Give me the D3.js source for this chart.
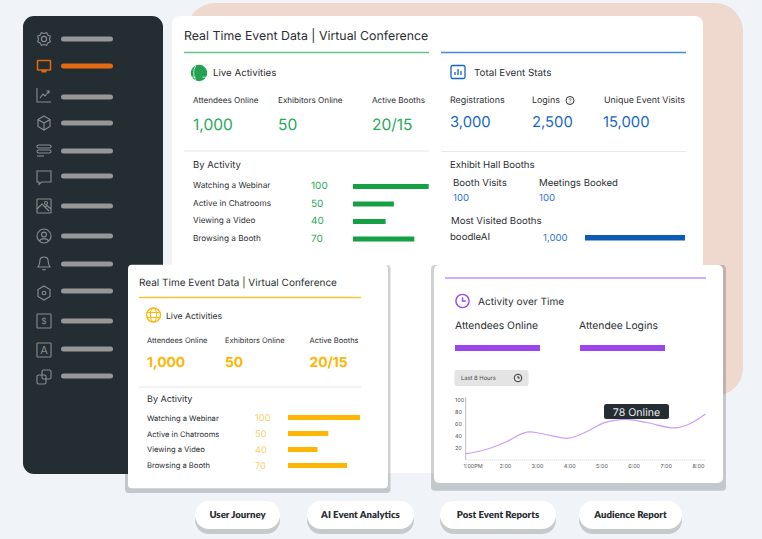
<!DOCTYPE html>
<html><head><meta charset="utf-8">
<script src="https://cdn.jsdelivr.net/npm/d3@7"></script>
<style>
html,body{margin:0;padding:0;background:#f0f4f8;overflow:hidden}
svg{display:block}
text{font-family:Inter,"Noto Sans",sans-serif;fill:#2b2f33;text-rendering:geometricPrecision}
</style></head><body><svg id="c" width="762" height="539"></svg>
<script>
const title="Real Time Event Data | Virtual Conference";
const liveLabels=["Attendees Online","Exhibitors Online","Active Booths"];
const liveValues=["1,000","50","20/15"];
const activityNames=["Watching a Webinar","Active in Chatrooms","Viewing a Video","Browsing a Booth"];
const activityValues=[100,50,40,70];
const greenBarValues=[100,54,43,81];
const yellowBarValues=[100,56,41,82];
const totalLabels=["Registrations","Logins","Unique Event Visits"];
const totalValues=["3,000","2,500","15,000"];
const boothLabels=["Booth Visits","Meetings Booked"];
const boothValues=["100","100"];
const topBoothNames=["boodleAI"];
const topBoothValues=[1000];
const lineHours=[0.78,1.38,2.0,2.68,3.2,3.97,4.55,5.06,5.78,6.4,7.29,7.75,8.23];
const lineOnline=[10,17,29,46,43,36,47,61,67,62,53,60,76];
const yTicks=[20,40,60,80,100];
const xTickHours=[1,2,3,4,5,6,7,8];
const xTickLabels=["1:00PM","2:00","3:00","4:00","5:00","6:00","7:00","8:00"];
const buttons=["User Journey","AI Event Analytics","Post Event Reports","Audience Report"];
const navIcons=["gear","screen","trend","cube","rows","chat","image","user","bell","hex","dollar","letter","copy"];

const svg=d3.select("#c");
const rect=(g,x,y,w,h,fill,r=0)=>g.append("rect").attr("x",x).attr("y",y).attr("width",w).attr("height",h).attr("rx",r).attr("fill",fill);
const txt=(g,x,y,s,size,fill="#2b2f33",o={})=>{const t=g.append("text").attr("x",x).attr("y",y).attr("font-size",size).style("fill",fill).text(s);
  if(o.weight)t.attr("font-weight",o.weight);if(o.anchor)t.attr("text-anchor",o.anchor);if(o.family)t.style("font-family",o.family);return t;};
const hline=(g,x1,x2,y,c,w=1)=>g.append("line").attr("x1",x1).attr("x2",x2).attr("y1",y).attr("y2",y).attr("stroke",c).attr("stroke-width",w);

// backdrop
rect(svg,187,3,556,393,"#efd8ce",28);
rect(svg,172,16,531,457,"#ffffff",8);

// sidebar
rect(svg,23,16,140,458,"#232d32",11);
const navY=[39,66,97,123,151,176,206,236,264,291,321,349,376];
const iconY=[39,66,95,123,151,177,206,236,263,293,321,350,377];
function navIcon(name,cy,c){
  const g=svg.append("g").attr("transform",`translate(44,${cy})`).attr("fill","none").attr("stroke",c).attr("stroke-width",1.1);
  const p=d=>g.append("path").attr("d",d);
  const box=(x,y,w,h,r=1)=>g.append("rect").attr("x",x).attr("y",y).attr("width",w).attr("height",h).attr("rx",r);
  const circ=(x,y,r)=>g.append("circle").attr("cx",x).attr("cy",y).attr("r",r);
  switch(name){
   case "gear":{circ(0,0,2.6);const a=d3.range(16).map(i=>{const r=i%2?6.9:5.5;const t=i*Math.PI/8;return [r*Math.sin(t),r*Math.cos(t)];});p(d3.line().curve(d3.curveLinearClosed)(a));break;}
   case "screen":g.attr("stroke-width",1.5);box(-6.5,-5.5,13,9.5,.5);g.append("rect").attr("x",-2.5).attr("y",4).attr("width",5).attr("height",2.5).attr("fill",c).attr("stroke","none");break;
   case "trend":p("M-7,-7V7H7M-4,3L-1,-1L1,1L5,-4M2.5,-4H5V-1.5");break;
   case "cube":p("M0,-7L6,-3.5V3.5L0,7L-6,3.5V-3.5ZM-6,-3.5L0,0L6,-3.5M0,0V7");break;
   case "rows":box(-7,-6,14,3,1.5);box(-7,-1,14,3,1.5);p("M-7,5H0");break;
   case "chat":p("M-7,-6H7V5H-2.5L-5,7.5V5H-7Z");break;
   case "image":box(-7,-7,14,14,.5);circ(2,-3,1.5);p("M-7,3L-2,-2L5,5M1,1L3,-.5L7,3");break;
   case "user":circ(0,0,7);circ(0,-1.5,2.4);p("M-4.5,5C-3,1.8 3,1.8 4.5,5");break;
   case "bell":p("M-6,4C-4,2 -4.5,-1 -4,-3C-3.5,-7 3.5,-7 4,-3C4.5,-1 4,2 6,4ZM-1.5,6C-1,7.3 1,7.3 1.5,6");break;
   case "hex":p("M0,-7L6,-3.5V3.5L0,7L-6,3.5V-3.5Z");circ(0,0,1.8);break;
   case "dollar":box(-7,-7,14,14,.5);g.append("text").attr("x",0).attr("y",3).attr("text-anchor","middle").attr("font-size",8.5).attr("stroke","none").style("fill",c).text("$");break;
   case "letter":box(-7,-7,14,14,.5);g.append("text").attr("x",0).attr("y",4).attr("text-anchor","middle").attr("font-size",11).attr("stroke","none").style("fill",c).text("A");break;
   case "copy":box(-2,-7,9,9,1.5);box(-7,-2,9,9,1.5);break;
  }
}
navIcons.forEach((n,i)=>{
  const c=i===1?"#e36a10":"#8b8f90";
  navIcon(n,iconY[i],i===1?c:"#8a8e8f");
  rect(svg,61,navY[i]-2.5,52,5,i===1?c:"#979797",2.5);
});

function globe(g,cx,cy,r,c,filled){
  const k=g.append("g").attr("transform",`translate(${cx},${cy})`);
  k.append("circle").attr("r",r).attr("fill",filled?c:"none").attr("stroke",c).attr("stroke-width",1.3);
  const s=filled?"#fff":c;
  if(filled){
    k.append("path").attr("d",`M${-r*.4},${-r}C${-r*.8},${-r*.3} ${-r*.8},${r*.3} ${-r*.4},${r}`).attr("fill","none").attr("stroke",s).attr("stroke-width",.7);
    k.append("path").attr("d",`M${-r},${r*.55}L${-r*.45},${r*.55}M${r*.45},${r*.55}L${r},${r*.55}`).attr("stroke",s).attr("stroke-width",.7);
  } else {
    k.append("ellipse").attr("rx",r*.45).attr("ry",r).attr("fill","none").attr("stroke",s).attr("stroke-width",1);
    k.append("path").attr("d",`M${-r},${-r*.35}H${r}M${-r},${r*.35}H${r}`).attr("stroke",s).attr("stroke-width",1);
  }
}
function clock(g,cx,cy,r,c,w=1.4){
  const k=g.append("g").attr("transform",`translate(${cx},${cy})`).attr("fill","none").attr("stroke",c).attr("stroke-width",w);
  k.append("circle").attr("r",r);
  k.append("path").attr("d",`M0,${-r*.55}V0H${r*.5}`);
}
function bars(g,vals,x0,x1,ys,h,c){
  const x=d3.scaleLinear().domain([0,100]).range([x0,x1]);
  g.selectAll(null).data(vals).join("rect").attr("x",x(0)).attr("y",(d,i)=>ys[i]-h/2).attr("height",h).attr("width",d=>x(d)-x(0)).attr("fill",c);
}

// main panel: green
txt(svg,184,39.5,title,12.35);
hline(svg,184,429,52.5,"#62c488",1.5);
hline(svg,441,686,52.5,"#4389dc",1.5);
globe(svg,199,73,7.6,"#22a24f",true);
txt(svg,213,75.5,"Live Activities",9.7);
const gx=[193,278,372];
liveLabels.forEach((s,i)=>txt(svg,gx[i],102.5,s,8.15));
liveValues.forEach((s,i)=>txt(svg,gx[i],130,s,15.5,"#2aa85a"));
hline(svg,184,429,151,"#e4e4e4",1);
txt(svg,193,168,"By Activity",9.5);
const gy=[185,203,220,238];
activityNames.forEach((s,i)=>txt(svg,193,gy[i]+3,s,8.2));
activityValues.forEach((d,i)=>txt(svg,311,gy[i]+3.5,d,10,"#2aa85a"));
bars(svg,greenBarValues,353,428.7,[186.5,204,221.5,239],5,"#16a044");

// main panel: blue
const ic=svg.append("g").attr("transform","translate(458,72)");
ic.append("rect").attr("x",-7).attr("y",-6.5).attr("width",14).attr("height",13).attr("rx",1.5).attr("fill","none").attr("stroke","#1565c0").attr("stroke-width",1.3);
ic.append("path").attr("d","M-3,3V0M0,3V-3M3,3V-1").attr("stroke","#1565c0").attr("stroke-width",1.3);
txt(svg,474,75.5,"Total Event Stats",9.8);
const bx=[450,532,604];
totalLabels.forEach((s,i)=>txt(svg,bx[i],103,s,8.9));
const h=svg.append("g").attr("transform","translate(570,100.5)");
h.append("circle").attr("r",4).attr("fill","none").attr("stroke","#333").attr("stroke-width",1);
txt(h,0,2.2,"?",6,"#333",{anchor:"middle"});
totalValues.forEach((s,i)=>txt(svg,[450,532,603][i],127,s,14.8,"#1768c4"));
hline(svg,441,686,151.5,"#e8e8e8",1);
txt(svg,450,168,"Exhibit Hall Booths",9.6);
const bb=[453,539];
boothLabels.forEach((s,i)=>txt(svg,bb[i],185.5,s,9.6));
boothValues.forEach((s,i)=>txt(svg,bb[i],201,s,9.6,"#2f74cc"));
txt(svg,451,223.5,"Most Visited Booths",9.6);
topBoothNames.forEach(s=>txt(svg,450,240,s,9.6));
topBoothValues.forEach(d=>{
  txt(svg,543,241,d3.format(",")(d),9.6,"#2f74cc");
  const x=d3.scaleLinear().domain([0,1000]).range([585,685]);
  rect(svg,x(0),235,x(d)-x(0),5.5,"#0d5bb5");
});

// yellow card
const shade="rgba(35,45,50,.22)";
rect(svg,125,265,265.5,228,shade,4);
rect(svg,128,264.7,260,223.5,"#fff",4);
txt(svg,139,286,title,10);
hline(svg,139,361,297.5,"#fdc23a",1.5);
globe(svg,153.5,315,7,"#fdb603",false);
txt(svg,166,318.5,"Live Activities",8.6);
const yx=[147,225,309.5];
liveLabels.forEach((s,i)=>txt(svg,yx[i],343,s,7.5));
liveValues.forEach((s,i)=>txt(svg,yx[i],367,s,13.8,"#fdb603",{weight:700}));
hline(svg,139,361,387,"#e6e6e6",1);
txt(svg,147,402,"By Activity",9);
const yy=[418,434,449.5,465.5];
activityNames.forEach((s,i)=>txt(svg,147,yy[i]+2.8,s,7.6));
activityValues.forEach((d,i)=>txt(svg,255,yy[i]+3.2,d,9.3,"#fdd06c"));
bars(svg,yellowBarValues,288,360,[417.5,433.5,449.5,465.5],5,"#fdb603");

// purple card
rect(svg,431,265,295,225.7,shade,4);
rect(svg,434,265,289,218,"#fff",5);
hline(svg,445,706,278,"#c58ffa",1.6);
clock(svg,462.5,301,6.6,"#9b46ea");
txt(svg,478,304.5,"Activity over Time",10.1);
txt(svg,455,329,"Attendees Online",10.3);
txt(svg,579,329,"Attendee Logins",10.3);
rect(svg,455,345,85,6,"#9b46ea");
rect(svg,580,345,85,6,"#9b46ea");
rect(svg,454.5,370,74,16,"#e4e4e4",2);
txt(svg,461,380.3,"Last 8 Hours",5.8,"#444");
clock(svg,518,378,3.8,"#333",1);

const xS=d3.scaleLinear().domain([1,8]).range([472.7,698]);
const yS=d3.scaleLinear().domain([0,100]).range([460,399.5]);
const gxA=svg.append("g").attr("transform","translate(0,460)")
  .call(d3.axisBottom(xS).tickValues(xTickHours).tickFormat((d,i)=>xTickLabels[i]).tickSize(0).tickPadding(4));
gxA.select(".domain").attr("d","M465.7,0H706").attr("stroke","#cfcfcf").attr("stroke-dasharray","1 1");
gxA.selectAll("text").attr("font-size",5.5).style("fill","#555");
const gyA=svg.append("g").attr("transform","translate(465.7,0)")
  .call(d3.axisLeft(yS).tickValues(yTicks).tickSize(0).tickPadding(0));
gyA.select(".domain").attr("d","M0,397V460").attr("stroke","#bdbdbd");
gyA.selectAll("text").attr("x",-10.7).attr("text-anchor","start").attr("font-size",5.5).style("fill","#555");
svg.append("path").datum(lineHours.map((d,i)=>[d,lineOnline[i]]))
  .attr("d",d3.line().x(d=>xS(d[0])).y(d=>yS(d[1])).curve(d3.curveCatmullRom.alpha(.5)))
  .attr("fill","none").attr("stroke","#cb9dfa").attr("stroke-width",1.2);
rect(svg,604,404,65,15,"#232d32",2.5);
txt(svg,636.5,415.5,"78 Online",10.6,"#e8eaeb",{anchor:"middle"});

// buttons
const btnX=[[195,280],[307,414],[440,556],[579,682]];
buttons.forEach((s,i)=>{
  const [a,b]=btnX[i];
  rect(svg,a,506,b-a,28,"#c6cacc",14);
  rect(svg,a,501,b-a,28,"#fff",14);
  txt(svg,(a+b)/2,518,s,9.6,"#2b2f33",{anchor:"middle",weight:800,family:"Lato"});
});
</script></body></html>
